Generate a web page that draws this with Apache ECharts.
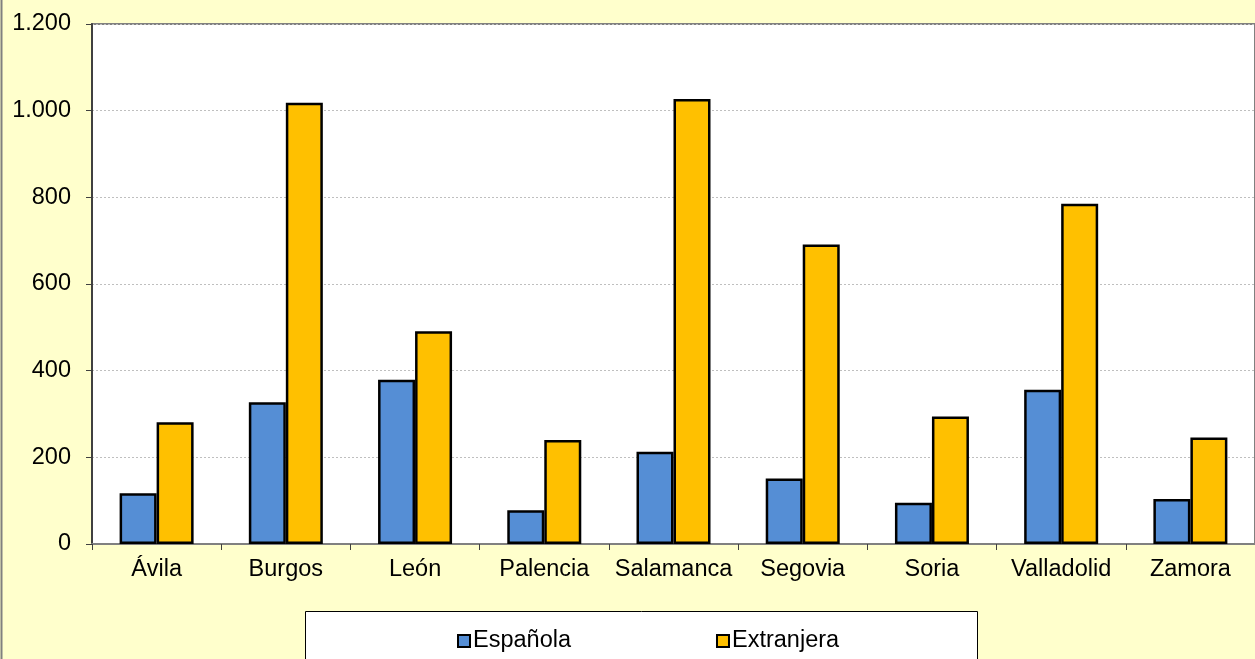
<!DOCTYPE html>
<html>
<head>
<meta charset="utf-8">
<script src="https://cdn.jsdelivr.net/npm/echarts@6/dist/echarts.min.js"></script>
<style>
html,body{margin:0;padding:0;background:#FFFFCC;}
#c{width:1255px;height:659px;}
</style>
</head>
<body>
<div id="c"></div>
<script>
const categories = ['Ávila','Burgos','León','Palencia','Salamanca','Segovia','Soria','Valladolid','Zamora'];
const espanola = [117, 327, 379, 78, 213, 151, 95, 356, 104];
const extranjera = [281, 1018, 491, 240, 1027, 691, 294, 785, 246];
const seriesNames = ['Española', 'Extranjera'];

const FONT = '"Liberation Sans", Arial, sans-serif';
const FS = 23.5;
const chart = echarts.init(document.getElementById('c'));
chart.setOption({
  backgroundColor: '#FFFFCC',
  animation: false,
  textStyle: { fontFamily: FONT },
  grid: {
    left: 92, top: 24, right: -11, bottom: 115,
    show: true, backgroundColor: '#ffffff', borderColor: '#808080', borderWidth: 2
  },
  graphic: [
    { type: 'line', shape: { x1: 1.5, y1: 0, x2: 1.5, y2: 659 }, style: { stroke: '#808080', lineWidth: 2 }, z: 10 },
    { type: 'rect', shape: { x: 305.5, y: 611.5, width: 672, height: 60 }, style: { fill: '#ffffff', stroke: '#000000', lineWidth: 1 }, z: 0 }
  ],
  legend: {
    left: 452, top: 624,
    itemWidth: 12, itemHeight: 12, itemGap: 145,
    icon: 'rect',
    itemStyle: { borderWidth: 2, borderColor: '#000' },
    textStyle: { fontSize: FS, color: '#000', fontFamily: FONT, padding: [0, 0, 0, -2] },
    data: seriesNames,
    z: 5
  },
  xAxis: {
    type: 'category',
    data: categories,
    axisLine: { lineStyle: { color: '#808080', width: 2 } },
    axisTick: { show: true, interval: 0, length: 6, lineStyle: { color: '#404040', width: 1 } },
    axisLabel: { interval: 0, fontSize: FS, color: '#000', margin: 14, fontFamily: FONT }
  },
  yAxis: {
    type: 'value',
    min: 0, max: 1200, interval: 200,
    axisLine: { show: true, lineStyle: { color: '#404040', width: 2 } },
    axisTick: { show: true, length: 6, lineStyle: { color: '#404040', width: 1 } },
    splitLine: { lineStyle: { color: '#BFBFBF', type: [2, 2], width: 1 } },
    axisLabel: {
      fontSize: FS, color: '#000', margin: 21, fontFamily: FONT,
      formatter: v => String(v).replace(/\B(?=(\d{3})+(?!\d))/g, '.')
    }
  },
  series: [
    {
      name: seriesNames[0], type: 'bar', data: espanola,
      barWidth: 37, barGap: '0%',
      itemStyle: { color: '#558ED5', borderColor: '#000', borderWidth: 2.5 }
    },
    {
      name: seriesNames[1], type: 'bar', data: extranjera,
      barWidth: 37, barGap: '0%',
      itemStyle: { color: '#FFC000', borderColor: '#000', borderWidth: 2.5 }
    }
  ]
});
</script>
</body>
</html>
